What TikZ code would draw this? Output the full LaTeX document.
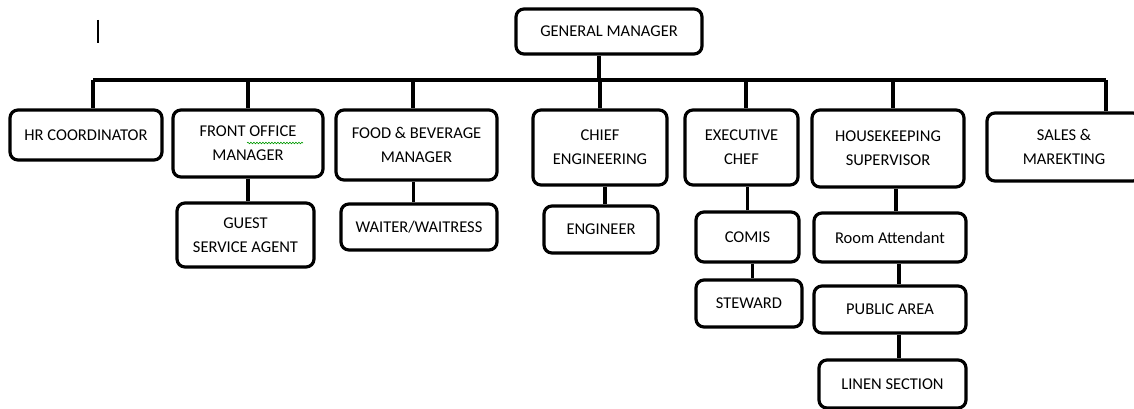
\documentclass[tikz,border=0pt]{standalone}
\usepackage{fontspec}
\setmainfont{Carlito}
\usetikzlibrary{decorations.pathmorphing}
\tikzset{
  box/.style={draw,line width=3.2pt,rounded corners=8pt,align=center,inner sep=2pt,font=\fontsize{16.5}{24}\selectfont},
  ln/.style={line width=3.4pt},
  wavy/.style={draw=green!60!black,line width=0.6pt,decorate,decoration={snake,amplitude=0.8pt,segment length=3pt}},
}
\begin{document}
\begin{tikzpicture}[x=1pt,y=-1pt]
\useasboundingbox (0,0) rectangle (1134,409);
% top
\node[box,minimum width=186,minimum height=45] (gm) at (609,31.5) {GENERAL MANAGER};
% first level
\node[box,minimum width=152,minimum height=50] (hr) at (86,135) {HR COORDINATOR};
\node[box,minimum width=150,minimum height=67] (fo) at (248,143.5) {FRONT OFFICE\\MANAGER};
\node[box,minimum width=161,minimum height=70] (fb) at (416.5,145) {FOOD \& BEVERAGE\\MANAGER};
\node[box,minimum width=134,minimum height=75] (ce) at (600,147.5) {CHIEF\\ENGINEERING};
\node[box,minimum width=113,minimum height=75] (ec) at (741.5,147.5) {EXECUTIVE\\CHEF};
\node[box,minimum width=152,minimum height=77] (hk) at (888,148.5) {HOUSEKEEPING\\SUPERVISOR};
\node[box,minimum width=154,minimum height=68] (sm) at (1064,147) {SALES \&\\MAREKTING};
% second level
\node[box,minimum width=137,minimum height=64] (gsa) at (245.5,235) {GUEST\\SERVICE AGENT};
\node[box,minimum width=156,minimum height=46] (ww) at (419,227) {WAITER/WAITRESS};
\node[box,minimum width=114,minimum height=47] (eng) at (601,229.5) {ENGINEER};
\node[box,minimum width=103,minimum height=50] (comis) at (747.5,237) {COMIS};
\node[box,minimum width=106,minimum height=47] (stew) at (749,303.5) {STEWARD};
\node[box,minimum width=152,minimum height=49] (ra) at (890,237.5) {Room Attendant};
\node[box,minimum width=152,minimum height=47] (pa) at (890,309.5) {PUBLIC AREA};
\node[box,minimum width=147,minimum height=48] (ls) at (892.5,384) {LINEN SECTION};
% bus
\coordinate (bl) at (93,80);
\coordinate (br) at (1106,80);
\coordinate (btop) at (599,80);
\draw[ln] (bl) -- (br);
\draw[ln] (btop) -- (btop |- gm.south);
\foreach \x/\n in {93/hr,248/fo,413/fb,600/ce,746/ec,893/hk,1106/sm}{
  \coordinate (d\n) at (\x,80);
  \draw[ln] (d\n) -- (d\n |- \n.north);
}
% sub lines
\draw[ln] (fo.south) -- (fo.south |- gsa.north);
\draw[ln] ([xshift=-3]fb.south) -- ([xshift=-3]fb.south |- ww.north);
\draw[ln] ([xshift=5]ce.south) -- ([xshift=5]ce.south |- eng.north);
\draw[ln] (comis.north) -- (comis.north |- ec.south);
\draw[ln] ([xshift=5]comis.south) -- ([xshift=5]comis.south |- stew.north);
\draw[ln] ([xshift=8]hk.south) -- ([xshift=8]hk.south |- ra.north);
\draw[ln] ([xshift=9]ra.south) -- ([xshift=9]ra.south |- pa.north);
\draw[ln] ([xshift=9]pa.south) -- ([xshift=9]pa.south |- ls.north);
% cursor mark and spell-check underline
\draw[line width=2pt] (98,20) -- (98,43);
\draw[wavy] (247,143) -- (303,143);
\end{tikzpicture}
\end{document}
